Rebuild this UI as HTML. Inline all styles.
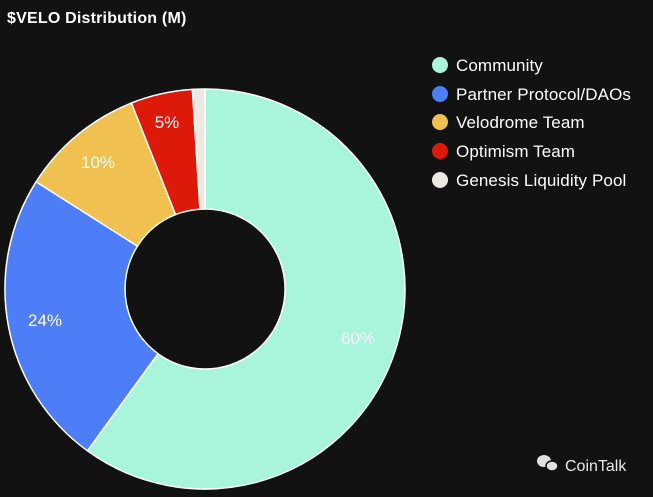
<!DOCTYPE html>
<html><head><meta charset="utf-8"><style>
body{margin:0;background:#121212;width:653px;height:492px;overflow:hidden;font-family:"Liberation Sans",sans-serif;}
</style></head><body>
<svg width="653" height="492" xmlns="http://www.w3.org/2000/svg">
<rect width="653" height="492" fill="#121212"/>
<text x="7" y="23" fill="#fff" font-size="16" font-weight="bold" letter-spacing="0.2">$VELO Distribution (M)</text>
<g stroke="#fff" stroke-width="1.5" stroke-linejoin="round">
<path d="M205,89 A200,200 0 1 1 87.4,450.8 L158,353.7 A80,80 0 1 0 205,209 Z" fill="#a8f5dc"/>
<path d="M87.4,450.8 A200,200 0 0 1 36.1,181.8 L137.5,246.1 A80,80 0 0 0 158,353.7 Z" fill="#4d7ef7"/>
<path d="M36.1,181.8 A200,200 0 0 1 131.4,103 L175.6,214.6 A80,80 0 0 0 137.5,246.1 Z" fill="#f0c050"/>
<path d="M131.4,103 A200,200 0 0 1 192.4,89.4 L200,209.2 A80,80 0 0 0 175.6,214.6 Z" fill="#dd1a0a"/>
<path d="M192.4,89.4 A200,200 0 0 1 205,89 L205,209 A80,80 0 0 0 200,209.2 Z" fill="#ede8e2"/>
</g>
<g fill="#fff" font-size="17" text-anchor="middle">
<text x="358" y="344">60%</text>
<text x="45" y="326">24%</text>
<text x="98" y="168">10%</text>
<text x="167" y="128">5%</text>
</g>
<g font-size="17" fill="#fff" letter-spacing="0.1">
<circle cx="440" cy="65" r="8" fill="#a8f5dc"/><text x="456" y="71">Community</text>
<circle cx="440" cy="94" r="8" fill="#4d7ef7"/><text x="456" y="100">Partner Protocol/DAOs</text>
<circle cx="440" cy="122" r="8" fill="#f0c050"/><text x="456" y="128">Velodrome Team</text>
<circle cx="440" cy="151" r="8" fill="#dd1a0a"/><text x="456" y="157">Optimism Team</text>
<circle cx="440" cy="180" r="8" fill="#ede8e2"/><text x="456" y="186">Genesis Liquidity Pool</text>
</g>
<g fill="#e0e0e0">
<ellipse cx="544" cy="461" rx="7" ry="6"/>
<ellipse cx="552" cy="466" rx="6" ry="5" stroke="#121212" stroke-width="1.5"/>
</g>
<text x="565" y="471" fill="#e8e8e8" font-size="16">CoinTalk</text>
</svg>
</body></html>
